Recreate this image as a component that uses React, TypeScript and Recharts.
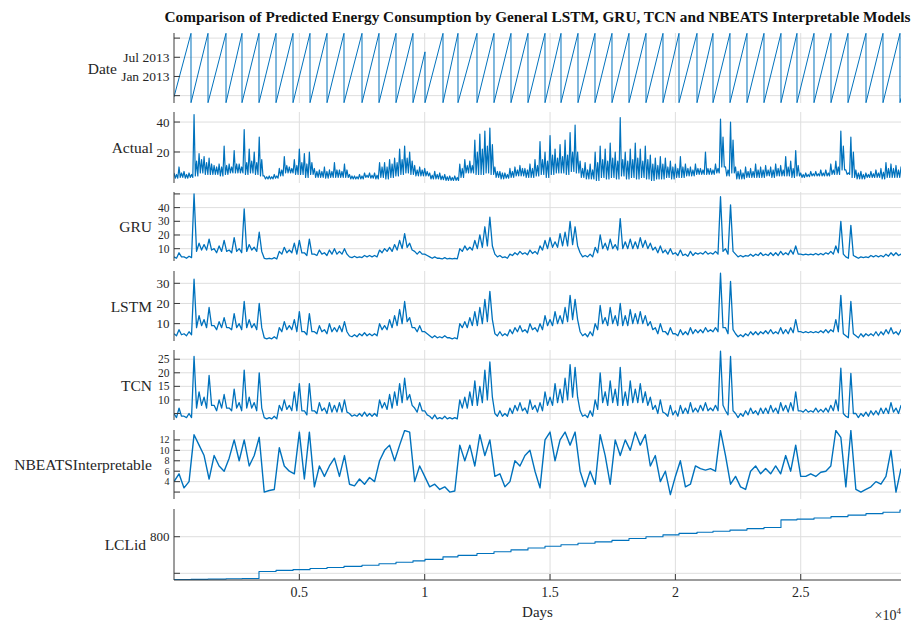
import React from 'react';
import { LineChart, Line, XAxis, YAxis, CartesianGrid } from 'recharts';

// ---------------- data ----------------
const X_MAX = 29000;
const SAMPLE_STEP = 200; // days between resampled readings

const xTickValues = [5000, 10000, 15000, 20000, 25000];
const xTickLabels = ['0.5', '1', '1.5', '2', '2.5'];

// day on which each household's record restarts (sawtooth resets / LCLid steps)
const resetDays = [678, 1356, 2074, 2712, 3390, 4069, 4747, 5425, 6103, 6781, 7499, 8177, 8855, 9533, 10012, 10730, 11328, 12086, 12764, 13442, 14120, 14799, 15437, 16115, 16793, 17471, 18149, 18827, 19505, 20144, 20862, 21500, 22178, 22856, 23534, 24212, 24850, 25529, 26207, 26885, 27603, 28281, 28959];
// Date (months since Jan 2012) reached just before each reset
const datePeakMonths = [25.5, 25.5, 25.5, 25.5, 25.5, 25.5, 25.5, 25.5, 25.5, 25.5, 25.5, 25.5, 25.5, 25.5, 19.7, 25.5, 25.5, 25.5, 25.5, 25.5, 25.5, 25.5, 25.5, 25.5, 25.5, 25.5, 25.5, 25.5, 25.5, 25.5, 25.5, 25.5, 25.5, 25.5, 25.5, 25.5, 25.5, 25.5, 25.5, 25.5, 25.5, 25.5, 25.5];
const dateStartMonth = 5.6;
const dateFloorMonth = 3.8;
const dateEndMonth = 5.2;
const dateTicks = [6, 12, 18, 24];
const dateTickLabels = ['', 'Jan 2013', 'Jul 2013', ''];

// LCLid for each household segment (first segment starts at day 0)
const lclidValues = [683, 683.5, 684, 685, 686, 705, 708, 710, 713, 716, 719, 722, 726, 730, 734, 738, 745, 749, 754, 759, 764, 769, 774, 778, 782, 786, 790, 795, 800, 805, 809, 812, 815, 818, 822, 825, 846, 848, 851, 855, 859, 863, 867, 873];
const lclidTicks = [700, 800];
const lclidTickLabels = ['', '800'];

// Actual: spike tops, lower envelope and the top of the dense band of readings
const actualHigh = [6, 10, 7, 6, 45, 19, 17, 16, 11, 12, 24, 12, 21, 12, 35, 22, 20, 30, 4, 4, 5, 9, 17, 10, 15, 22, 19, 20, 9, 8, 10, 8, 13, 8, 12, 5, 4, 5, 6, 6, 6, 13, 13, 15, 16, 22, 24, 20, 11, 10, 9, 6, 7, 6, 5, 4, 4, 12, 15, 14, 28, 32, 34, 36, 10, 7, 6, 9, 10, 11, 9, 12, 15, 27, 20, 31, 22, 25, 28, 33, 38, 14, 13, 12, 20, 24, 22, 26, 20, 43, 20, 22, 26, 22, 24, 18, 16, 17, 16, 14, 12, 17, 12, 10, 12, 9, 20, 9, 12, 42, 10, 40, 10, 8, 10, 9, 12, 10, 11, 10, 12, 11, 17, 14, 21, 6, 6, 7, 7, 8, 8, 12, 14, 34, 8, 30, 8, 7, 6, 7, 8, 9, 13, 12, 11, 10];
const actualLow = [2.5, 3, 2.5, 3, 4, 6, 5, 5, 5, 4, 5, 6, 6, 6, 5, 6, 5, 4, 2, 2, 2.5, 4, 6, 6, 5, 5, 3, 5, 3, 3, 2.5, 3, 3, 3, 3, 2, 2, 2, 3, 2.5, 2, 3, 2, 3, 4, 5, 6, 5, 4, 4, 4, 2, 2, 1.5, 1, 1, 1, 3, 6, 6, 5, 5, 6, 5, 3, 2, 2.5, 3, 4, 4, 3, 3, 4, 5, 3, 5, 6, 6, 5, 7, 6, 3, 2, 2, 1, 3, 2, 3, 2, 4, 2, 3, 2, 3, 2, 1, 2, 2, 3, 2, 3, 3, 4, 4, 5, 5, 5, 5, 6, 10, 4, 6, 2, 2, 3, 3, 3, 3, 4, 3, 4, 4, 4, 3, 4, 3, 3.5, 4, 4, 4, 4, 5, 5, 8, 5, 3, 2, 2, 3, 3, 3, 2, 3, 3, 3, 4];
const actualBand = [5, 6, 5, 5, 14, 15, 13, 12, 10, 10, 11, 10, 12, 10, 13, 14, 13, 15, 3.5, 3.5, 4, 8, 11, 9, 11, 13, 12, 13, 7, 7, 7, 7, 8, 7, 8, 4, 3.5, 4, 4.5, 4.5, 4.5, 10, 10, 12, 13, 15, 16, 14, 8, 8, 7, 4.5, 5, 4, 3.5, 3, 3, 9, 11, 11, 20, 22, 24, 25, 7, 6, 5, 7, 8, 9, 8, 9, 11, 15, 14, 18, 16, 17, 18, 20, 20, 9, 8, 8, 13, 15, 14, 16, 14, 15, 14, 15, 16, 14, 15, 12, 11, 12, 10, 10, 9, 10, 9, 8, 9, 8, 9, 8, 9, 30, 8, 28, 7, 6, 7, 7, 8, 8, 8, 8, 9, 8, 10, 9, 11, 5, 5, 5.5, 5.5, 6, 6, 8, 10, 24, 6, 20, 6, 5, 5, 5.5, 6, 6.5, 9, 9, 8, 8];
const actualTicks = [20, 40];
const actualTickLabels = ['20', '40'];

// model predictions: upper reading and lower edge of the jitter in each interval
const gruValues = [4, 7, 4, 4.5, 50, 14, 13, 17, 10, 12, 16, 9, 18, 10, 39, 13, 11, 22, 3, 3, 3.5, 8, 11, 9, 14, 16, 7, 17, 6, 9, 7, 9, 10, 8, 10, 4, 4.5, 4, 5, 5, 5, 9, 10, 11, 13, 16, 21, 14, 8, 8, 6, 4, 4, 3, 3.5, 3, 3, 10, 12, 11, 16, 20, 26, 33, 6, 5, 4, 6, 7, 8, 7, 9, 8, 12, 16, 18, 15, 21, 22, 30, 26, 7, 5, 6, 11, 20, 14, 17, 13, 32, 15, 17, 15, 18, 16, 14, 11, 12, 9, 10, 7, 9, 6, 8, 7, 7, 8, 7, 8, 48, 10, 42, 6, 5, 5, 6, 6, 7, 6, 7, 7, 8, 7, 9, 12, 6, 6, 6, 6.5, 6.5, 7, 8, 12, 30, 4, 27, 4, 4, 4, 5, 5, 5, 6, 7, 7, 6];
const gruLow = [3, 4, 3, 3.5, 8, 9, 9, 9, 7, 8, 8, 7, 8, 7, 8, 9, 8, 8, 2.5, 2.5, 2.5, 6, 7, 7, 6, 7, 5, 6, 5, 6, 5, 6, 6, 6, 6, 3.5, 3.5, 3.5, 4, 4, 4, 7, 8, 8, 9, 10, 11, 9, 6, 6, 5, 3, 3, 2.5, 2.5, 2.5, 2.5, 8, 9, 9, 10, 11, 12, 12, 4, 3.5, 3, 5, 5.5, 6, 5.5, 6.5, 6, 9, 10, 11, 11, 12, 12, 13, 12, 4, 4, 4, 7, 10, 9, 10, 9, 10, 10, 10, 10, 11, 10, 9, 7, 7, 6, 6, 5, 5, 4.5, 5, 6, 6, 6, 6, 6, 8, 6, 8, 4, 4, 4.5, 4.5, 5, 5, 5, 5, 5, 5.5, 5.5, 6, 6, 5.5, 5.5, 5.5, 5.5, 5.5, 6, 6, 7, 6, 3, 5, 3, 3.5, 3.5, 4, 4, 4, 4.5, 5, 5, 5];
const gruTicks = [10, 20, 30, 40, 50];
const gruTickLabels = ['10', '20', '30', '40', ''];

const lstmValues = [5, 7, 5, 6, 32, 14, 12, 18, 9, 11, 13, 8, 15, 10, 21, 12, 10, 20, 3, 3, 3.5, 8, 11, 9, 12, 16, 6, 15, 6, 9, 7, 10, 8, 9, 11, 4, 4.5, 5, 5.5, 5, 5, 10, 9, 12, 14, 17, 21, 13, 8, 9, 6, 4, 4, 3.5, 4, 3, 3, 10, 11, 13, 16, 18, 22, 26, 5, 6, 5, 7, 8, 9, 7, 10, 8, 10, 14, 12, 16, 14, 18, 24, 22, 6, 5, 6, 10, 19, 13, 18, 14, 20, 14, 17, 15, 16, 14, 11, 8, 10, 6, 8, 5, 7, 6, 8, 7, 7, 8, 7, 8, 35, 8, 31, 5, 4.5, 5, 6, 6, 6, 6.5, 7, 6, 8, 7, 8, 12, 6, 6, 6, 6, 6.5, 7, 7, 12, 24, 4, 21, 4, 5, 5, 5, 6, 6, 7, 8, 6, 7];
const lstmLow = [4, 4.5, 4, 4.5, 8, 9, 8, 9, 7, 8, 8, 7, 8, 7, 8, 8, 7, 8, 2.5, 2.5, 2.5, 6, 7, 7, 6, 6, 4.5, 6, 5, 6, 5, 6, 6, 6, 6, 3.5, 3.5, 4, 4, 4, 4, 7, 7, 8, 9, 10, 11, 8, 6, 6, 5, 3, 3, 3, 3, 2.5, 2.5, 8, 8, 9, 9, 10, 11, 12, 4, 4, 4, 5, 6, 6, 5.5, 7, 6, 7, 9, 9, 10, 10, 11, 12, 12, 4, 3.5, 4, 7, 10, 9, 10, 9, 9, 9, 10, 10, 10, 9, 7, 5, 6, 4.5, 5, 4, 4.5, 4.5, 5, 5.5, 5.5, 6, 6, 6, 8, 5, 7, 3.5, 3.5, 4, 4.5, 4.5, 5, 5, 5, 5, 5, 5, 5.5, 6, 5.5, 5.5, 5.5, 5.5, 5.5, 5.5, 6, 6, 5, 3, 5, 3, 3.5, 4, 4, 4, 4.5, 5, 5, 4.5, 4];
const lstmTicks = [10, 20, 30];
const lstmTickLabels = ['10', '20', '30'];

const tcnValues = [5, 7, 4, 5, 26, 13, 11, 19, 8, 10, 12, 7, 14, 9, 21, 11, 9, 20, 3.5, 3.5, 4, 8, 10, 8, 13, 16, 6, 16, 6, 9, 7, 9, 8, 9, 10, 5, 4.5, 5, 5.5, 5, 5, 10, 9, 12, 13, 16, 18, 12, 7, 9, 6, 4, 4.5, 3.5, 4, 3.5, 3.5, 10, 11, 13, 17, 15, 21, 24, 5, 6, 5, 7, 8, 9, 7, 10, 8, 9, 13, 11, 16, 14, 18, 23, 22, 6, 4.5, 6, 10, 20, 13, 17, 14, 22, 13, 17, 14, 16, 13, 11, 8, 10, 5, 8, 6, 8, 7, 9, 7, 8, 9, 7, 8, 28, 6, 26, 5, 5, 6, 7, 6, 7, 7, 8, 7, 9, 8, 9, 13, 6, 6.5, 6, 7, 6.5, 7, 8, 10, 21.7, 4, 19.8, 5, 5, 5.5, 6, 6, 7, 7, 9, 7, 8];
const tcnLow = [3.5, 4, 3.5, 3.5, 7, 8, 7, 8, 6, 7, 7, 6, 7, 6, 7, 7, 6, 7, 3, 3, 3, 6, 6.5, 6, 6, 6, 4.5, 6, 5, 6, 5, 5.5, 5.5, 5.5, 5.5, 4, 4, 4, 4, 4, 4, 7, 6.5, 7, 8, 9, 10, 8, 5.5, 6, 4.5, 3, 3, 3, 3, 3, 3, 7, 7, 8, 8, 9, 10, 11, 4, 4, 4, 5, 6, 6, 5, 6.5, 5.5, 6, 8, 8, 9, 9, 10, 11, 11, 4, 3.5, 4, 6.5, 9, 8, 9, 8, 8, 8, 9, 9, 9, 8, 6.5, 5, 5.5, 4, 4.5, 4, 5, 5, 5.5, 5.5, 6, 6, 6, 6, 8, 4.5, 6, 3.5, 4, 4.5, 5, 4.5, 5, 5, 5.5, 5, 6, 5.5, 6, 6, 5.5, 5.5, 5.5, 5.5, 5.5, 5.5, 6, 6, 5, 3.5, 5, 3.5, 4, 4, 4.5, 4.5, 5, 5, 5.5, 5, 4.5];
const tcnTicks = [5, 10, 15, 20, 25];
const tcnTickLabels = ['', '10', '15', '20', '25'];

const nbeatsValues = [4, 5.5, 2.8, 4, 13, 11, 9, 4.5, 9, 7, 6, 8.5, 12, 8, 12, 7, 9, 12.5, 2, 2.3, 2.5, 10.5, 7, 6, 5.5, 13.5, 4.5, 13.5, 3, 7, 5, 7, 8.5, 5, 9, 3.5, 3.2, 4.5, 3.5, 4.8, 4, 8, 10, 11, 8, 11, 13.8, 13.5, 4, 7, 5, 3, 3.5, 2.5, 3, 2, 2.2, 11, 8, 11, 7, 13, 9, 12, 5, 5.5, 3, 4, 8, 7, 9, 10, 6, 2.8, 12, 13.5, 8, 12, 13.5, 11, 13.5, 6, 3, 6, 3.5, 13, 9, 3.5, 12, 9, 12, 10, 13.5, 11, 13, 7, 9, 4, 6, 1.5, 5, 8, 3, 3.5, 7, 6.5, 6.2, 6.5, 6, 13.8, 9, 3.5, 5, 3, 2.5, 6, 7, 5.5, 6.5, 5.5, 7, 5.5, 9, 6, 11, 5, 5, 5.5, 5, 5.8, 6, 7, 13.8, 12.5, 3, 13.8, 2.5, 2, 2.5, 3, 4, 3.5, 5, 10, 2, 6.5];
const nbeatsTicks = [2, 4, 6, 8, 10, 12, 14];
const nbeatsTickLabels = ['', '4', '6', '8', '10', '12', ''];

// ---------------- styling ----------------
const FONT = '"Liberation Serif", "Times New Roman", serif';
const BLUE = '#0072BD';
const GRID = '#dedede';
const AXIS = '#3a3a3a';
const TEXT = '#262626';
const CHART_W = 913;
const Y_AXIS_W = 174;
const RIGHT_M = 12;
const X_AXIS_H = 32;

type Row = { x: number; y: number };

const sampleRows = (vals: number[]): Row[] => vals.map((v, i) => ({ x: i * SAMPLE_STEP, y: v }));

const pairRows = (vals: number[], lows: number[]): Row[] =>
  vals.flatMap((v, i) => [
    { x: i * SAMPLE_STEP, y: v },
    { x: i * SAMPLE_STEP + SAMPLE_STEP / 2, y: lows[i] },
  ]);

// each sampling interval: spike top, low, band top, low
const actualRows: Row[] = actualHigh.flatMap((h, i) => {
  const x0 = i * SAMPLE_STEP;
  const q = SAMPLE_STEP / 4;
  return [
    { x: x0, y: h },
    { x: x0 + q, y: actualLow[i] },
    { x: x0 + 2 * q, y: actualBand[i] },
    { x: x0 + 3 * q, y: actualLow[i] },
  ];
});

const dateRows: Row[] = (() => {
  const rows: Row[] = [{ x: 0, y: dateStartMonth }];
  resetDays.forEach((d, k) => {
    rows.push({ x: d, y: datePeakMonths[k] });
    rows.push({ x: d + 1, y: dateFloorMonth });
  });
  rows.push({ x: X_MAX, y: dateEndMonth });
  return rows;
})();

const lclidRows: Row[] = (() => {
  const starts = [0, ...resetDays];
  const rows: Row[] = starts.map((d, k) => ({ x: d, y: lclidValues[k] }));
  rows.push({ x: X_MAX, y: lclidValues[lclidValues.length - 1] });
  return rows;
})();

type PanelDef = {
  name: string;
  top: number;
  height: number;
  rows: Row[];
  domain: [number, number];
  ticks: number[];
  tickLabels: string[];
  labelRight: number;
  tickFont: number;
  lineWidth: number;
  step?: boolean;
  showX?: boolean;
};

const panels: PanelDef[] = [
  { name: 'Date', top: 33, height: 70, rows: dateRows, domain: [3.7, 25.6], ticks: dateTicks, tickLabels: dateTickLabels, labelRight: 117, tickFont: 13.5, lineWidth: 1 },
  { name: 'Actual', top: 112, height: 71, rows: actualRows, domain: [-0.7, 46.7], ticks: actualTicks, tickLabels: actualTickLabels, labelRight: 153, tickFont: 13, lineWidth: 1.2 },
  { name: 'GRU', top: 192, height: 69, rows: pairRows(gruValues, gruLow), domain: [1.0, 51.4], ticks: gruTicks, tickLabels: gruTickLabels, labelRight: 152, tickFont: 11.5, lineWidth: 1.3 },
  { name: 'LSTM', top: 271, height: 70, rows: pairRows(lstmValues, lstmLow), domain: [1.4, 36.1], ticks: lstmTicks, tickLabels: lstmTickLabels, labelRight: 152, tickFont: 13, lineWidth: 1.3 },
  { name: 'TCN', top: 350, height: 70, rows: pairRows(tcnValues, tcnLow), domain: [2.6, 28.4], ticks: tcnTicks, tickLabels: tcnTickLabels, labelRight: 152, tickFont: 11.5, lineWidth: 1.3 },
  { name: 'NBEATSInterpretable', top: 430, height: 69, rows: sampleRows(nbeatsValues), domain: [0.67, 13.9], ticks: nbeatsTicks, tickLabels: nbeatsTickLabels, labelRight: 152, tickFont: 10, lineWidth: 1.4 },
  { name: 'LCLid', top: 509, height: 71, rows: lclidRows, domain: [681.7, 875.7], ticks: lclidTicks, tickLabels: lclidTickLabels, labelRight: 146, tickFont: 13, lineWidth: 1.1, step: true, showX: true },
];

function Panel({ p }: { p: PanelDef }) {
  const h = p.height + (p.showX ? X_AXIS_H : 0);
  return (
    <div style={{ position: 'absolute', left: 0, top: p.top, width: CHART_W, height: h }}>
      <LineChart width={CHART_W} height={h} data={p.rows} margin={{ top: 0, right: RIGHT_M, bottom: 0, left: 0 }}>
        <CartesianGrid stroke={GRID} strokeWidth={1} horizontalValues={p.ticks} verticalValues={xTickValues} />
        <XAxis
          type="number"
          dataKey="x"
          domain={[0, X_MAX]}
          allowDataOverflow
          ticks={xTickValues}
          interval={0}
          hide={!p.showX}
          height={p.showX ? X_AXIS_H : 0}
          tickFormatter={(v: number) => xTickLabels[xTickValues.indexOf(v)] ?? ''}
          tickSize={-6}
          tickMargin={13}
          axisLine={{ stroke: AXIS, strokeWidth: 1 }}
          tickLine={{ stroke: AXIS, strokeWidth: 1 }}
          tick={{ fill: TEXT, fontSize: 14, fontFamily: FONT }}
        />
        <YAxis
          type="number"
          domain={p.domain}
          allowDataOverflow
          ticks={p.ticks}
          interval={0}
          width={Y_AXIS_W}
          tickFormatter={(v: number) => p.tickLabels[p.ticks.indexOf(v)] ?? ''}
          tickSize={-6}
          tickMargin={10.5}
          axisLine={{ stroke: AXIS, strokeWidth: 1 }}
          tickLine={{ stroke: AXIS, strokeWidth: 1 }}
          tick={{ fill: TEXT, fontSize: p.tickFont, fontFamily: FONT }}
        />
        <Line
          dataKey="y"
          type={p.step ? 'stepAfter' : 'linear'}
          stroke={BLUE}
          strokeWidth={p.lineWidth}
          strokeLinejoin="round"
          dot={false}
          activeDot={false}
          isAnimationActive={false}
        />
      </LineChart>
    </div>
  );
}

export default function App() {
  return (
    <div style={{ position: 'absolute', left: 0, top: 0, width: CHART_W, height: 622, background: '#fff', overflow: 'hidden' }}>
      {panels.map((p) => (
        <Panel key={p.name} p={p} />
      ))}
      <svg width={CHART_W} height={622} style={{ position: 'absolute', left: 0, top: 0, pointerEvents: 'none' }}>
        <text
          x={(Y_AXIS_W + CHART_W - RIGHT_M) / 2}
          y={22}
          textAnchor="middle"
          fontFamily={FONT}
          fontWeight="bold"
          fontSize={15}
          fill="#111"
          textLength={746}
          lengthAdjust="spacingAndGlyphs"
        >
          Comparison of Predicted Energy Consumption by General LSTM, GRU, TCN and NBEATS Interpretable Models
        </text>
        {panels.map((p) => (
          <text
            key={'lbl-' + p.name}
            x={p.labelRight}
            y={p.top + p.height / 2}
            textAnchor="end"
            dominantBaseline="central"
            fontFamily={FONT}
            fontSize={15.5}
            fill={TEXT}
          >
            {p.name}
          </text>
        ))}
        <text x={(Y_AXIS_W + CHART_W - RIGHT_M) / 2} y={617} textAnchor="middle" fontFamily={FONT} fontSize={15} fill={TEXT}>
          Days
        </text>
        <text x={CHART_W - RIGHT_M} y={620} textAnchor="end" fontFamily={FONT} fontSize={14} fill={TEXT}>
          ×10<tspan dy={-6.5} fontSize={9}>4</tspan>
        </text>
      </svg>
    </div>
  );
}
